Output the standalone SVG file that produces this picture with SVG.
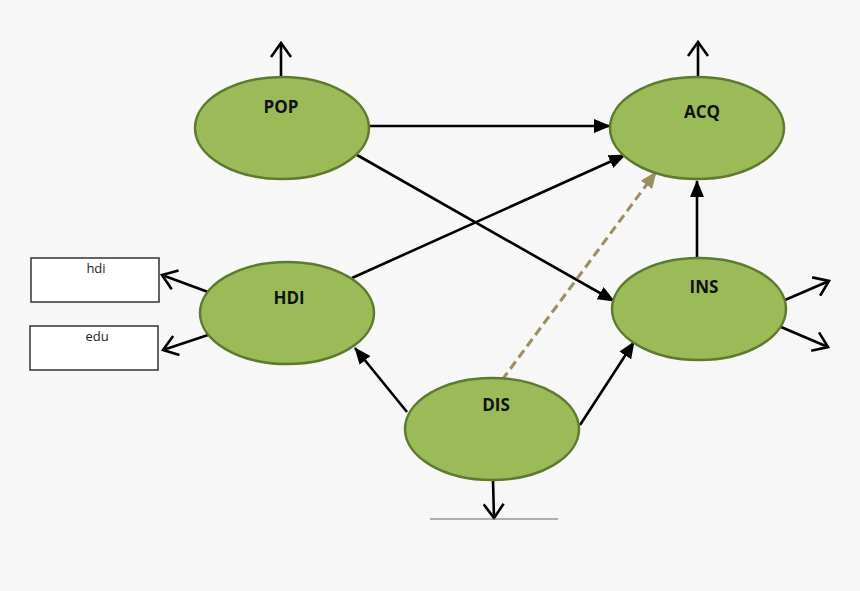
<svg xmlns="http://www.w3.org/2000/svg" width="860" height="591" viewBox="0 0 860 591">
<style>
.node{fill:#9bbb59;stroke:#5e7a2e;stroke-width:2.5}
.lbl{font-family:"Open Sans","Liberation Sans",sans-serif;font-weight:bold;font-size:17px;fill:#111;text-anchor:middle}
.box{fill:#fff;stroke:#333;stroke-width:1.5}
.blbl{font-family:"Open Sans","Liberation Sans",sans-serif;font-size:13px;fill:#222;text-anchor:middle}
.c{stroke:#000;stroke-width:2.6;fill:none}
.f{marker-end:url(#fill)}
.o{marker-end:url(#open)}
.d{stroke:#9c9060;stroke-width:3;stroke-dasharray:9,5;fill:none;marker-end:url(#tan)}
</style>
<defs>
<marker id="fill" markerUnits="userSpaceOnUse" markerWidth="18" markerHeight="14" refX="16" refY="7" orient="auto"><path d="M0,0 L17,7 L0,14 z" fill="#000"/></marker>
<marker id="tan" markerUnits="userSpaceOnUse" markerWidth="18" markerHeight="14" refX="16" refY="7" orient="auto"><path d="M0,0 L17,7 L0,14 z" fill="#9c9060"/></marker>
<marker id="open" markerUnits="userSpaceOnUse" markerWidth="20" markerHeight="22" refX="16" refY="11" orient="auto"><path d="M2,1 L16,11 L2,21" fill="none" stroke="#000" stroke-width="2.6"/></marker>
</defs>
<rect width="860" height="591" fill="#f7f7f7"/>
<g id="connectors">
<line class="c o" x1="281" y1="78" x2="281" y2="43"/>
<line class="c o" x1="698" y1="78" x2="698" y2="42"/>
<line class="c f" x1="370" y1="126" x2="610" y2="126"/>
<line class="c f" x1="357" y1="155" x2="614" y2="301"/>
<line class="c f" x1="352" y1="278" x2="625" y2="155"/>
<line class="d" x1="502" y1="380" x2="656" y2="172"/>
<line class="c f" x1="697" y1="260" x2="697" y2="181"/>
<line class="c f" x1="407" y1="412" x2="355" y2="348"/>
<line class="c f" x1="580" y1="425" x2="634" y2="342"/>
<line class="c o" x1="208" y1="292" x2="162" y2="275"/>
<line class="c o" x1="208" y1="335" x2="163" y2="350"/>
<line class="c o" x1="785" y1="300" x2="829" y2="281"/>
<line class="c o" x1="781" y1="327" x2="828" y2="347"/>
<line class="c o" x1="493" y1="480" x2="494" y2="518"/>
<line x1="430" y1="519" x2="558" y2="519" stroke="#666" stroke-width="1.2"/>
</g>
<g id="POP"><ellipse class="node" cx="282" cy="128" rx="87" ry="51"/><text class="lbl" x="281" y="113">POP</text></g>
<g id="ACQ"><ellipse class="node" cx="697" cy="128" rx="87" ry="51"/><text class="lbl" x="702" y="118">ACQ</text></g>
<g id="HDI"><ellipse class="node" cx="287" cy="313" rx="87" ry="51"/><text class="lbl" x="289" y="304">HDI</text></g>
<g id="INS"><ellipse class="node" cx="699" cy="309" rx="87" ry="51"/><text class="lbl" x="704" y="293">INS</text></g>
<g id="DIS"><ellipse class="node" cx="492" cy="429" rx="87" ry="51"/><text class="lbl" x="496" y="411">DIS</text></g>
<g id="hdi"><rect class="box" x="31" y="258" width="128" height="44"/><text class="blbl" x="96" y="273">hdi</text></g>
<g id="edu"><rect class="box" x="30" y="326" width="128" height="44"/><text class="blbl" x="97" y="341">edu</text></g>
</svg>
